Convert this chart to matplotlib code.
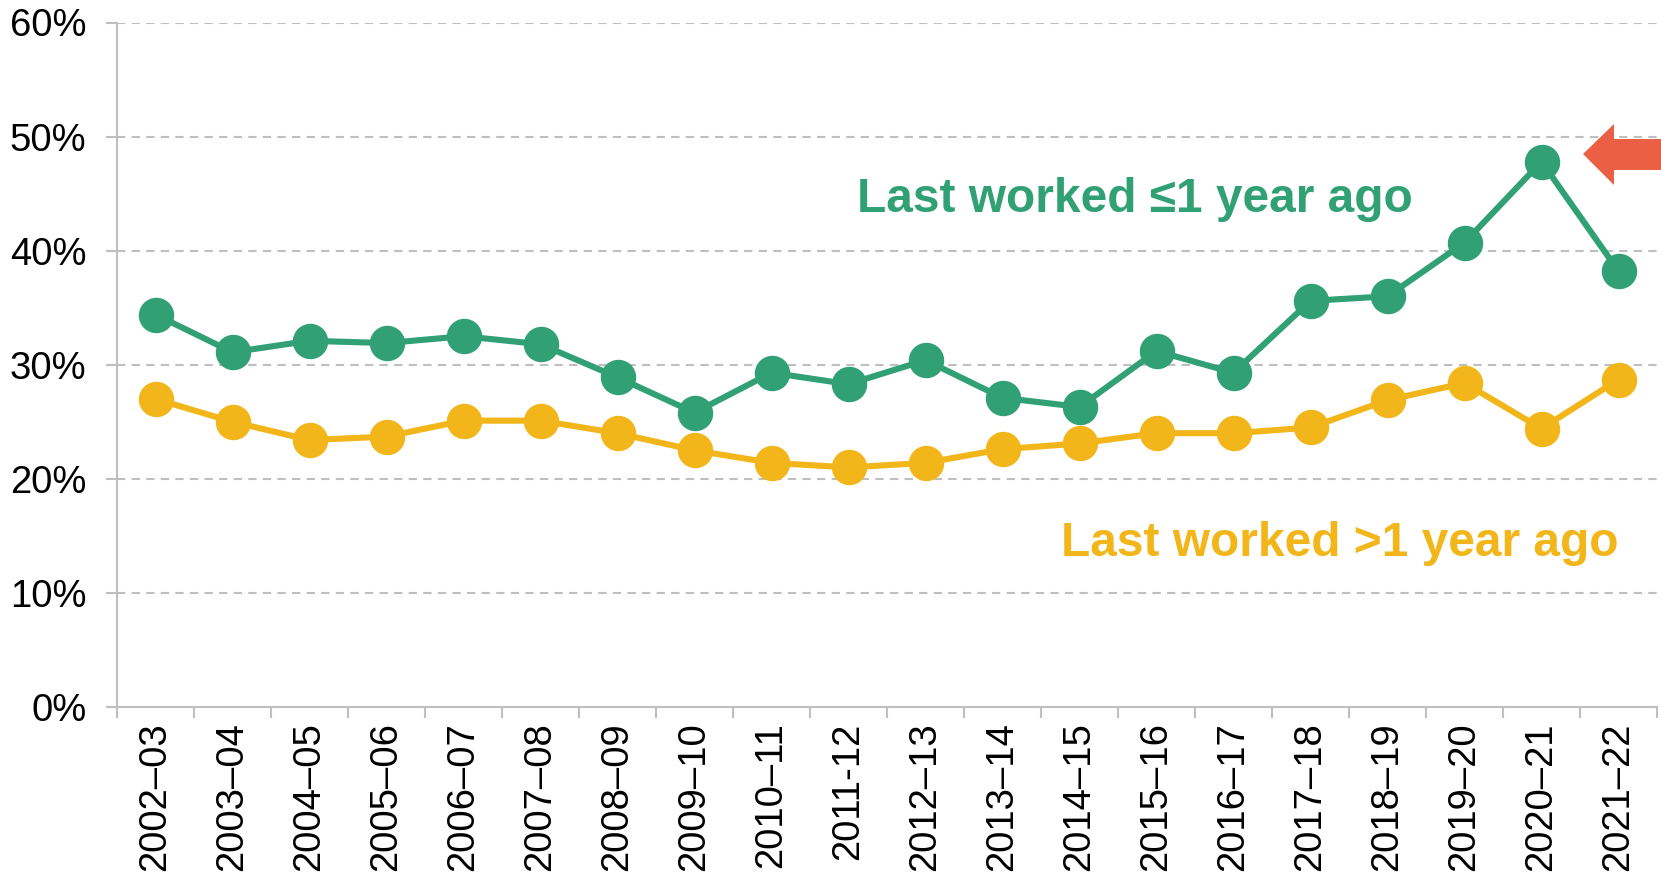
import matplotlib
matplotlib.use("Agg")
import matplotlib.pyplot as plt
from matplotlib.patches import Polygon
import numpy as np

years = ["2002–03", "2003–04", "2004–05", "2005–06", "2006–07", "2007–08",
         "2008–09", "2009–10", "2010–11", "2011-12", "2012–13", "2013–14",
         "2014–15", "2015–16", "2016–17", "2017–18", "2018–19", "2019–20",
         "2020–21", "2021–22"]
recent = [34.4, 31.1, 32.1, 31.9, 32.5, 31.8, 28.9, 25.8, 29.3, 28.3,
          30.4, 27.1, 26.3, 31.2, 29.3, 35.6, 36.0, 40.7, 47.8, 38.2]
older = [27.0, 25.0, 23.4, 23.7, 25.1, 25.1, 24.0, 22.5, 21.4, 21.0,
         21.4, 22.6, 23.1, 24.0, 24.0, 24.5, 26.9, 28.4, 24.4, 28.7]
yticks = [0, 10, 20, 30, 40, 50, 60]

GREEN = "#31A074"
YELLOW = "#F2B61A"
RED = "#EB5F45"
GRID = "#BFBFBF"

plt.rcParams['font.family'] = ['Liberation Sans', 'DejaVu Sans']

W, H = 1661, 877
fig = plt.figure(figsize=(W / 100, H / 100), dpi=100)
ax = fig.add_axes([117 / W, 1 - 707 / H, (1657 - 117) / W, (707 - 22.5) / H])

x = np.arange(len(years))
ax.plot(x, recent, color=GREEN, lw=4.4, marker="o", ms=24.5, zorder=3, clip_on=False)
ax.plot(x, older, color=YELLOW, lw=4.4, marker="o", ms=24.5, zorder=3, clip_on=False)

ax.set_xlim(-0.5, len(years) - 0.5)
ax.set_ylim(0, 60)
ax.set_yticks(yticks)
ax.set_yticklabels([f"{v}%" for v in yticks], fontsize=27.5)
for v in yticks[1:]:
    ax.axhline(v, color=GRID, lw=1.5, ls=(0, (4, 3)), zorder=1)

ax.set_xticks(x)
ax.set_xticklabels(years, rotation=90, fontsize=27.5)
ax.set_xticks(np.arange(len(years) + 1) - 0.5, minor=True)
ax.tick_params(axis="x", which="major", length=0, pad=11)
ax.tick_params(axis="x", which="minor", length=8, width=1.5, color=GRID)
ax.tick_params(axis="y", length=8, width=1.5, color=GRID, pad=14)

for s in ["top", "right"]:
    ax.spines[s].set_visible(False)
for s in ["left", "bottom"]:
    ax.spines[s].set_color(GRID)
    ax.spines[s].set_linewidth(1.5)

ax.text(1135 / W, 1 - 200 / H, "Last worked ≤1 year ago", transform=fig.transFigure,
        color=GREEN, fontsize=34.5, fontweight="bold", ha="center", va="center")
ax.text(1340 / W, 1 - 543 / H, "Last worked >1 year ago", transform=fig.transFigure,
        color=YELLOW, fontsize=34.5, fontweight="bold", ha="center", va="center")

arrow_px = [(1583, 154), (1614, 124), (1614, 139), (1661, 139),
            (1661, 170), (1614, 170), (1614, 185)]
arrow = Polygon([(px / W, 1 - py / H) for px, py in arrow_px], closed=True,
                transform=fig.transFigure, facecolor=RED, edgecolor="none")
fig.patches.append(arrow)

fig.savefig("out.png", dpi=100)
